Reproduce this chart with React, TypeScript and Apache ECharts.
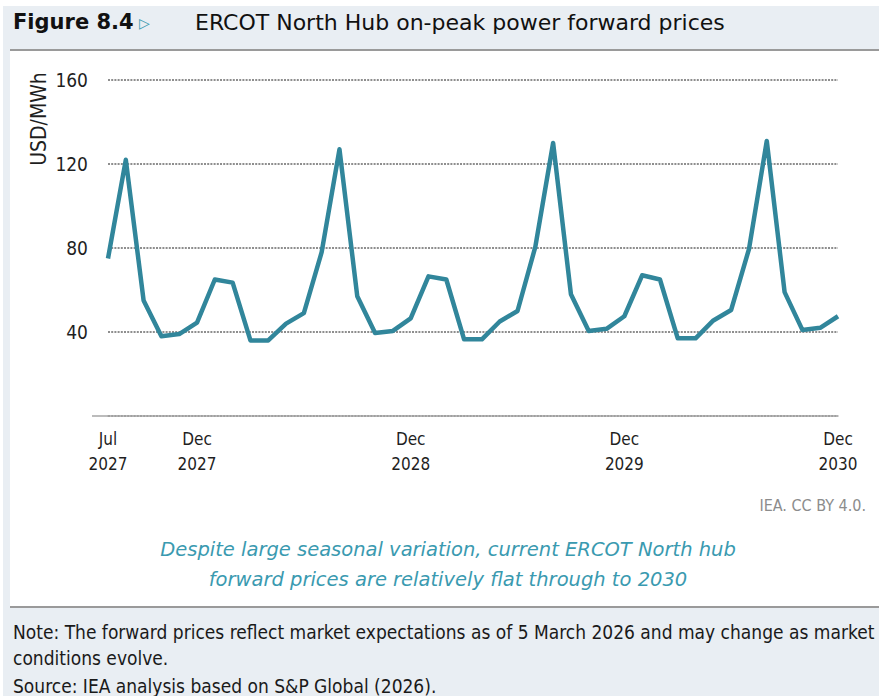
import React, { useEffect, useRef } from "react";
import * as echarts from "echarts";

const months = [
  "Jul 2027", "Aug 2027", "Sep 2027", "Oct 2027", "Nov 2027", "Dec 2027",
  "Jan 2028", "Feb 2028", "Mar 2028", "Apr 2028", "May 2028", "Jun 2028",
  "Jul 2028", "Aug 2028", "Sep 2028", "Oct 2028", "Nov 2028", "Dec 2028",
  "Jan 2029", "Feb 2029", "Mar 2029", "Apr 2029", "May 2029", "Jun 2029",
  "Jul 2029", "Aug 2029", "Sep 2029", "Oct 2029", "Nov 2029", "Dec 2029",
  "Jan 2030", "Feb 2030", "Mar 2030", "Apr 2030", "May 2030", "Jun 2030",
  "Jul 2030", "Aug 2030", "Sep 2030", "Oct 2030", "Nov 2030", "Dec 2030",
];

const prices = [
  75, 122, 55, 38, 39, 44.5,
  65, 63.5, 36, 36, 44, 49, 78, 127, 57, 39.5, 40.5, 46.5,
  66.5, 65, 36.5, 36.5, 45, 50, 80.5, 130, 58, 40.5, 41.5, 47.5,
  67, 65, 37, 37, 45.5, 50.5, 79.5, 131, 59, 41, 42, 47.5,
];

const labelledMonths = ["Jul 2027", "Dec 2027", "Dec 2028", "Dec 2029", "Dec 2030"];

const yMin = 0;
const yMax = 160;
const yStep = 40;

const titleFig = "Figure 8.4";
const titleText = "ERCOT North Hub on-peak power forward prices";
const unitText = "USD/MWh";
const subtitleLines = [
  "Despite large seasonal variation, current ERCOT North hub",
  "forward prices are relatively flat through to 2030",
];
const creditText = "IEA. CC BY 4.0.";
const noteLines = [
  "Note: The forward prices reflect market expectations as of 5 March 2026 and may change as market",
  "conditions evolve.",
];
const sourceText = "Source: IEA analysis based on S&P Global (2026).";

const TEAL = "#31869B";
const NARROW = "'DejaVu Sans Condensed', 'Liberation Sans', sans-serif";
const WIDE = "'DejaVu Sans', sans-serif";

export default function App() {
  const ref = useRef<HTMLDivElement>(null);

  useEffect(() => {
    if (!ref.current) return;
    const chart = echarts.init(ref.current, null, { renderer: "svg" });
    chart.setOption({
      animation: false,
      backgroundColor: "transparent",
      grid: { left: 108, right: 41, top: 80, bottom: 280, containLabel: false },
      xAxis: {
        type: "category",
        data: months,
        boundaryGap: false,
        axisLine: { show: true, lineStyle: { color: "#A6A6A6", width: 1.5 } },
        axisTick: { show: false },
        splitLine: { show: false },
        axisLabel: {
          interval: (_idx: number, value: string) => labelledMonths.includes(value),
          formatter: (value: string) => value.replace(" ", "\n"),
          fontFamily: NARROW,
          fontSize: 17,
          lineHeight: 25,
          color: "#1F1F1F",
          margin: 10,
          showMaxLabel: true,
        },
        z: 3,
      },
      yAxis: {
        type: "value",
        min: yMin,
        max: yMax,
        interval: yStep,
        axisLine: { show: false },
        axisTick: { show: false },
        axisLabel: {
          fontFamily: NARROW,
          fontSize: 19,
          color: "#1F1F1F",
          margin: 20,
          formatter: (v: number) => (v === 0 ? "" : String(v)),
        },
        splitLine: {
          show: true,
          lineStyle: { color: "#8E8E8E", width: 2.2, type: [2, 1.2] },
        },
      },
      series: [
        {
          type: "line",
          data: prices,
          symbol: "none",
          lineStyle: { color: TEAL, width: 4.5, join: "round" },
          z: 5,
        },
      ],
      graphic: [
        {
          type: "line",
          shape: { x1: 92, y1: 416, x2: 108, y2: 416 },
          style: { stroke: "#A6A6A6", lineWidth: 1.5 },
        },
        {
          type: "text",
          x: 13,
          y: 22,
          style: {
            text: titleFig,
            fontFamily: WIDE,
            fontWeight: "bold",
            fontSize: 21,
            fill: "#111",
            verticalAlign: "middle",
          },
        },
        {
          type: "text",
          x: 139,
          y: 23,
          style: {
            text: "\u25B7",
            fontFamily: WIDE,
            fontSize: 14,
            fill: "#3A9AB0",
            verticalAlign: "middle",
          },
        },
        {
          type: "text",
          x: 195,
          y: 22,
          style: {
            text: titleText,
            fontFamily: WIDE,
            fontSize: 22,
            fill: "#111",
            verticalAlign: "middle",
          },
        },
        {
          type: "text",
          x: 39,
          y: 119,
          rotation: Math.PI / 2,
          style: {
            text: unitText,
            fontFamily: NARROW,
            fontSize: 21,
            fill: "#1F1F1F",
            align: "center",
            verticalAlign: "middle",
          },
        },
        {
          type: "text",
          x: 866,
          y: 505,
          style: {
            text: creditText,
            fontFamily: NARROW,
            fontSize: 16,
            fill: "#8C8C8C",
            align: "right",
            verticalAlign: "middle",
          },
        },
        ...subtitleLines.map((t, i) => ({
          type: "text",
          x: 448,
          y: 549 + i * 30,
          style: {
            text: t,
            fontFamily: WIDE,
            fontStyle: "italic",
            fontSize: 19.5,
            fill: "#3A9AB0",
            align: "center",
            verticalAlign: "middle",
          },
        })),
        ...noteLines.map((t, i) => ({
          type: "text",
          x: 13,
          y: 632 + i * 26,
          style: {
            text: t,
            fontFamily: NARROW,
            fontSize: 19,
            fill: "#1A1A1A",
            verticalAlign: "middle",
          },
        })),
        {
          type: "text",
          x: 13,
          y: 686,
          style: {
            text: sourceText,
            fontFamily: NARROW,
            fontSize: 19,
            fill: "#1A1A1A",
            verticalAlign: "middle",
          },
        },
      ],
    });
    return () => chart.dispose();
  }, []);

  return (
    <div
      style={{
        position: "fixed",
        left: 0,
        top: 0,
        width: 879,
        height: 696,
        background: "#ffffff",
        overflow: "hidden",
      }}
    >
      <div style={{ position: "absolute", left: 3, top: 6, right: 0, bottom: 0, background: "#E9EEF3" }} />
      <div style={{ position: "absolute", left: 10, top: 51, width: 869, height: 555, background: "#ffffff" }} />
      <div style={{ position: "absolute", left: 10, top: 49, width: 869, height: 2, background: "#9A9A9A" }} />
      <div style={{ position: "absolute", left: 10, top: 606, width: 869, height: 2, background: "#9A9A9A" }} />
      <div ref={ref} style={{ position: "absolute", left: 0, top: 0, width: 879, height: 696 }} />
    </div>
  );
}
